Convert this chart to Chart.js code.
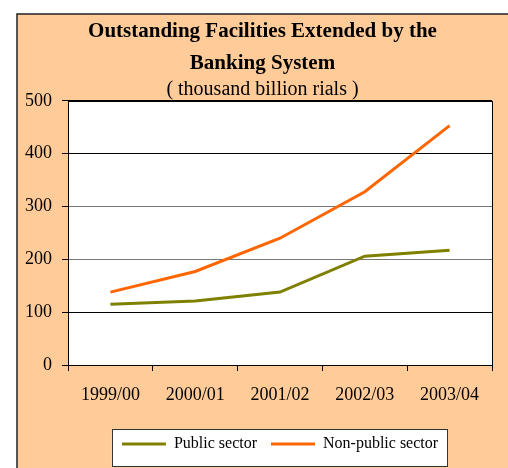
<!DOCTYPE html>
<html>
<head>
<meta charset="utf-8">
<script src="https://cdn.jsdelivr.net/npm/chart.js@4/dist/chart.umd.min.js"></script>
<style>
  html, body { margin: 0; padding: 0; background: #fff; }
  #wrap { position: relative; width: 508px; height: 468px; }
</style>
</head>
<body>
<div id="wrap"><canvas id="facilitiesChart" width="508" height="468"></canvas></div>
<script>
// Data
//==============================
var years = ["1999/00", "2000/01", "2001/02", "2002/03", "2003/04"];
var publicSector = [115, 121, 138, 206, 217];
var nonPublicSector = [138, 177, 240, 328, 453];
var yTicks = [0, 100, 200, 300, 400, 500];

var serif = "'Liberation Serif', 'Times New Roman', serif";

// Peach panel, white plot area, white legend box
var framePlugin = {
  id: "frame",
  beforeDraw: function (chart) {
    var ctx = chart.ctx;
    var a = chart.chartArea;
    ctx.save();
    ctx.fillStyle = "#ffcc99";
    ctx.fillRect(17, 14, 500, 460);
    ctx.strokeStyle = "#222";
    ctx.lineWidth = 1.5;
    ctx.strokeRect(17, 14, 500, 460);
    ctx.fillStyle = "#fff";
    ctx.fillRect(a.left, a.top, a.right - a.left, a.bottom - a.top);

    var boxes = chart.legend.legendHitBoxes;
    if (boxes && boxes.length) {
      var left = boxes[0].left - 10;
      var last = boxes[boxes.length - 1];
      var right = last.left + last.width + 9;
      var top = boxes[0].top - 7;
      var bottom = boxes[0].top + boxes[0].height + 14;
      ctx.fillStyle = "#fff";
      ctx.fillRect(left, top, right - left, bottom - top);
      ctx.strokeStyle = "#333";
      ctx.lineWidth = 1;
      ctx.strokeRect(Math.round(left) + 0.5, Math.round(top) + 0.5, Math.round(right - left), Math.round(bottom - top));
    }
    ctx.restore();
  },
  afterDraw: function (chart) {
    var ctx = chart.ctx;
    var a = chart.chartArea;
    ctx.save();
    ctx.strokeStyle = "#000";
    ctx.lineWidth = 1;
    ctx.strokeRect(Math.round(a.left) + 0.5, Math.round(a.top) + 0.5, Math.round(a.right - a.left), Math.round(a.bottom - a.top));
    ctx.restore();
  }
};

// Chart
// ===========================
var ctx = document.getElementById("facilitiesChart");
var facilitiesChart = new Chart(ctx, {
  type: "line",
  data: {
    labels: years,
    datasets: [{
      label: "Public sector",
      data: publicSector,
      borderColor: "#808000",
      backgroundColor: "#808000",
      borderWidth: 3,
      pointRadius: 0,
      tension: 0,
      fill: false
    }, {
      label: "Non-public sector",
      data: nonPublicSector,
      borderColor: "#ff6600",
      backgroundColor: "#ff6600",
      borderWidth: 3,
      pointRadius: 0,
      tension: 0,
      fill: false
    }]
  },
  options: {
    responsive: false,
    animation: false,
    layout: { padding: { left: 17, right: 0, top: 14, bottom: 6 } },
    plugins: {
      title: {
        display: true,
        text: ["Outstanding Facilities Extended by the", "Banking System"],
        color: "#000",
        font: { family: serif, size: 21, weight: "bold", lineHeight: 1.52 },
        padding: { top: 2, bottom: 0 }
      },
      subtitle: {
        display: true,
        text: "( thousand billion rials )",
        color: "#000",
        font: { family: serif, size: 20, weight: "normal", lineHeight: 1.0 },
        padding: { top: 0, bottom: 1 }
      },
      legend: {
        position: "bottom",
        fullSize: false,
        labels: {
          color: "#000",
          font: { family: serif, size: 16 },
          boxWidth: 44,
          boxHeight: 3,
          padding: 14,
          generateLabels: function (chart) {
            var items = Chart.defaults.plugins.legend.labels.generateLabels(chart);
            items.forEach(function (it) { it.lineWidth = 0; });
            return items;
          }
        }
      },
      tooltip: { enabled: false }
    },
    scales: {
      x: {
        offset: true,
        grid: { offset: true, drawOnChartArea: false, drawTicks: true, tickLength: 6, color: "#000" },
        border: { display: true, color: "#000", width: 1 },
        ticks: { color: "#000", font: { family: serif, size: 18 }, padding: 13, maxRotation: 0 },
        afterFit: function (scale) { scale.height = 57; }
      },
      y: {
        min: 0,
        max: 500,
        afterBuildTicks: function (scale) {
          scale.ticks = yTicks.map(function (v) { return { value: v }; });
        },
        grid: {
          color: ["#000", "#000", "#777", "#777", "#000", "#000"],
          tickColor: "#000",
          tickLength: 6,
          lineWidth: 1
        },
        border: { display: true, color: "#000", width: 1 },
        ticks: { color: "#000", font: { family: serif, size: 18 }, padding: 10 },
        afterFit: function (scale) { scale.width = 51; }
      },
      y2: {
        position: "right",
        display: true,
        grid: { display: false },
        border: { display: false },
        ticks: { display: false },
        afterFit: function (scale) { scale.width = 16; }
      }
    }
  },
  plugins: [framePlugin]
});
</script>
</body>
</html>
